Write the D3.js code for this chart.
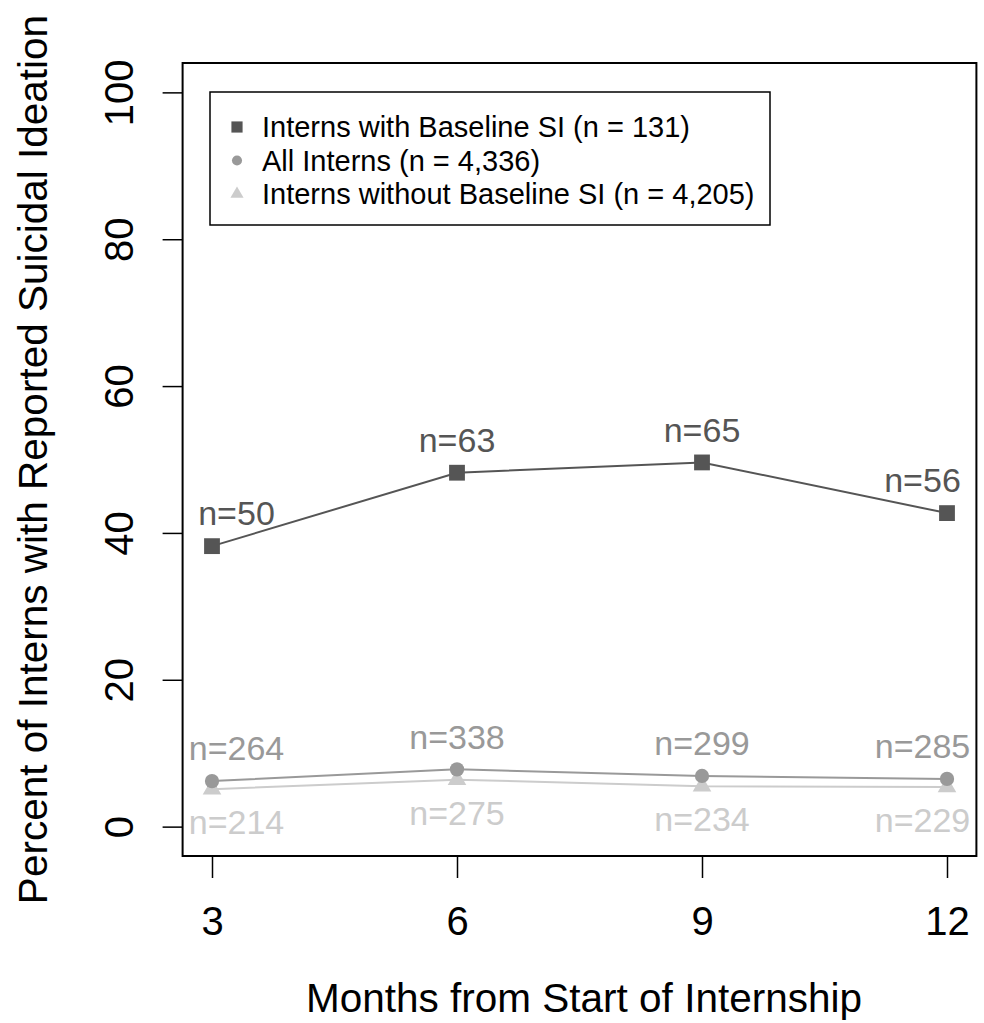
<!DOCTYPE html>
<html lang="en">
<head>
    <meta charset="UTF-8">
    <script src="https://d3js.org/d3.v7.min.js"></script>
    <style>
        body { margin: 0; background: #fff; }
        text { font-family: "Liberation Sans", Arial, Helvetica, sans-serif; }
    </style>
</head>
<body>
    <svg id="chart" width="984" height="1023"></svg>

    <script>
        // months on the x axis
        const months = [3, 6, 9, 12];
        const yTicks = [0, 20, 40, 60, 80, 100];

        // percent with suicidal ideation
        const baselineSI = [38.2, 48.2, 49.6, 42.7];
        const allInterns = [6.2, 7.8, 6.9, 6.5];
        const withoutSI = [5.1, 6.4, 5.5, 5.4];

        // n at each time point
        const baselineN = ["n=50", "n=63", "n=65", "n=56"];
        const allN = ["n=264", "n=338", "n=299", "n=285"];
        const withoutN = ["n=214", "n=275", "n=234", "n=229"];

        // where the n labels sit along the x axis (months), nudged inside the frame
        const labelAt = [3.3, 6.0, 9.0, 11.7];

        const legendLabels = [
            "Interns with Baseline SI (n = 131)",
            "All Interns (n = 4,336)",
            "Interns without Baseline SI (n = 4,205)"
        ];

        const series = [
            { values: baselineSI, labels: baselineN, color: "#555555", shape: d3.symbolSquare, size: 250, side: -1 },
            { values: allInterns, labels: allN, color: "#999999", shape: d3.symbolCircle, size: 160, side: -1 },
            { values: withoutSI, labels: withoutN, color: "#cccccc", shape: d3.symbolTriangle, size: 150, side: 1 }
        ];

        const svg = d3.select("#chart");
        const plotL = 182.6, plotR = 976.4, plotT = 63, plotB = 856;

        // R style: axis range padded by 4%
        const x = d3.scaleLinear().domain([3 - 0.36, 12 + 0.36]).range([plotL, plotR]);
        const y = d3.scaleLinear().domain([-4, 104]).range([plotB, plotT]);

        // y axis
        const yAxis = svg.append("g")
            .attr("transform", `translate(${plotL},0)`)
            .call(d3.axisLeft(y).tickValues(yTicks).tickSize(20).tickFormat(d3.format("d")));
        yAxis.select(".domain").remove();
        yAxis.selectAll("line").attr("stroke", "#000").attr("stroke-width", 1.5);
        yAxis.selectAll("text")
            .attr("x", null)
            .attr("transform", "translate(-64,0) rotate(-90)")
            .attr("dy", "0.36em")
            .attr("text-anchor", "middle")
            .attr("font-size", 40)
            .attr("font-family", "Liberation Sans, Arial, sans-serif")
            .attr("fill", "#000");

        // x axis
        const xAxis = svg.append("g")
            .attr("transform", `translate(0,${plotB})`)
            .call(d3.axisBottom(x).tickValues(months).tickSize(22).tickFormat(d3.format("d")));
        xAxis.select(".domain").remove();
        xAxis.selectAll("line").attr("stroke", "#000").attr("stroke-width", 1.5);
        xAxis.selectAll("text")
            .attr("y", 79).attr("dy", null)
            .attr("font-size", 40)
            .attr("font-family", "Liberation Sans, Arial, sans-serif")
            .attr("fill", "#000");

        // frame
        svg.append("rect")
            .attr("x", plotL).attr("y", plotT)
            .attr("width", plotR - plotL).attr("height", plotB - plotT)
            .attr("fill", "none").attr("stroke", "#000").attr("stroke-width", 2);

        // axis titles
        svg.append("text")
            .attr("x", 584).attr("y", 1012)
            .attr("text-anchor", "middle").attr("font-size", 40.5)
            .text("Months from Start of Internship");
        svg.append("text")
            .attr("transform", `translate(47,${(plotT + plotB) / 2}) rotate(-90)`)
            .attr("text-anchor", "middle").attr("font-size", 40.5)
            .text("Percent of Interns with Reported Suicidal Ideation");

        const line = d3.line().x((d, i) => x(months[i])).y(d => y(d));

        // draw lightest first so darker lines sit on top
        series.slice().reverse().forEach(s => {
            svg.append("path")
                .datum(s.values)
                .attr("d", line)
                .attr("fill", "none")
                .attr("stroke", s.color)
                .attr("stroke-width", 2);

            svg.selectAll(null)
                .data(s.values)
                .enter().append("path")
                .attr("transform", (d, i) => `translate(${x(months[i])},${y(d)})`)
                .attr("d", d3.symbol().type(s.shape).size(s.size))
                .attr("fill", s.color);

            svg.selectAll(null)
                .data(s.values)
                .enter().append("text")
                .attr("x", (d, i) => x(labelAt[i]))
                .attr("y", d => y(d) + s.side * 33)
                .attr("dy", "0.36em")
                .attr("text-anchor", "middle")
                .attr("font-size", 34)
                .attr("fill", s.color)
                .text((d, i) => s.labels[i]);
        });

        // legend
        const legend = svg.append("g").attr("transform", "translate(210,92)");
        legend.append("rect")
            .attr("width", 560).attr("height", 133)
            .attr("fill", "#fff").attr("stroke", "#000").attr("stroke-width", 1.5);
        series.forEach((s, i) => {
            const cy = 35 + i * 33.5;
            legend.append("path")
                .attr("transform", `translate(27,${cy})`)
                .attr("d", d3.symbol().type(s.shape).size(s.size * 0.5))
                .attr("fill", s.color);
            legend.append("text")
                .attr("x", 52).attr("y", cy)
                .attr("dy", "0.36em")
                .attr("font-size", 29)
                .attr("fill", "#000")
                .text(legendLabels[i]);
        });
    </script>
</body>
</html>
